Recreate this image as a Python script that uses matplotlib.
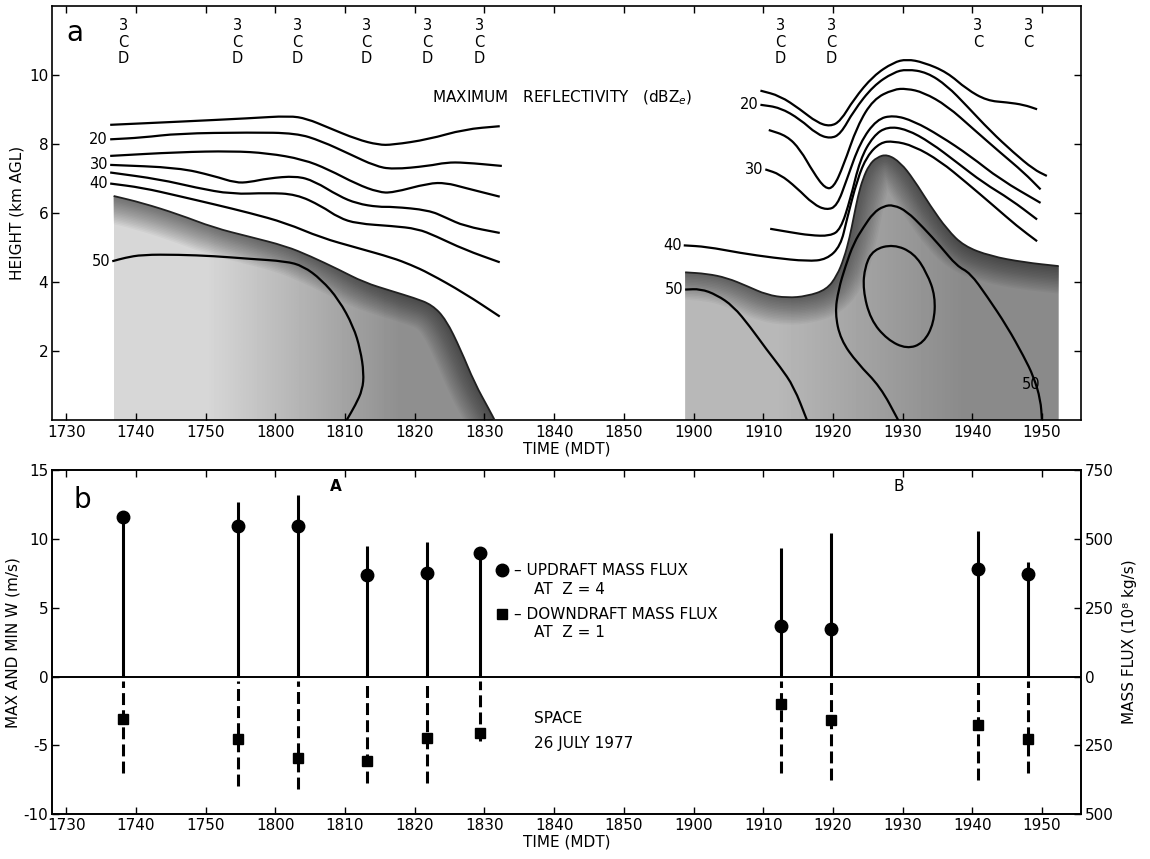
import numpy as np
import matplotlib.pyplot as plt
from matplotlib.path import Path
from matplotlib.patches import PathPatch

plt.rcParams['font.family'] = 'DejaVu Sans'
plt.rcParams['axes.unicode_minus'] = False

# ось времени: подписи HHMM (MDT), позиции в минутах после 17:30
tick_labels = ['1730', '1740', '1750', '1800', '1810', '1820', '1830', '1840',
               '1850', '1900', '1910', '1920', '1930', '1940', '1950']
tick_min = [int(s[:2]) * 60 + int(s[2:]) - (17 * 60 + 30) for s in tick_labels]

# моменты наблюдений (мин после 17:30) и коды радаров
obs_min = [8.2, 24.6, 33.2, 43.1, 51.8, 59.3, 102.5, 109.8, 130.8, 138.0]
radar_codes = ['3CD', '3CD', '3CD', '3CD', '3CD', '3CD', '3CD', '3CD', '3C', '3C']

# панель b: max/min W (м/с) и потоки массы (10^8 кг/с)
w_max = [11.6, 12.7, 13.2, 9.5, 9.75, 8.9, 9.3, 10.4, 10.6, 8.3]
w_min = [-7.0, -7.95, -8.15, -7.7, -7.75, -4.7, -7.0, -7.5, -7.5, -7.0]
up_flux = [579, 547, 547, 369, 376, 447, 185, 171, 390, 373]
down_flux = [155, 228, 297, 307, 222, 206, 100, 158, 176, 228]
w_ticks = [-10, -5, 0, 5, 10, 15]
flux_ticks = [-500, -250, 0, 250, 500, 750]
flux_tick_labels = ['500', '250', '0', '250', '500', '750']

# панель a: изолинии отражаемости (мин после 17:30, км), ячейка A
A15 = [(6.3, 8.56), (16.1, 8.65), (26.3, 8.75), (32.0, 8.82), (34.5, 8.74), (37.6, 8.48), (41.7, 8.14),
       (44.8, 7.98), (46.8, 7.98), (52.0, 8.14), (57.1, 8.43), (62.2, 8.52)]
A20 = [(6.3, 8.14), (10.9, 8.19), (16.1, 8.31), (26.3, 8.34), (33.0, 8.32), (36.6, 8.09), (40.7, 7.71),
       (44.3, 7.37), (46.8, 7.27), (52.0, 7.37), (54.5, 7.47), (57.1, 7.47), (62.5, 7.37)]
A25 = [(6.3, 7.66), (16.1, 7.77), (23.8, 7.80), (28.9, 7.74), (34.0, 7.56), (37.6, 7.27), (41.7, 6.84),
       (44.8, 6.61), (46.8, 6.59), (52.0, 6.87), (54.5, 6.88), (57.1, 6.74), (62.2, 6.48)]
A30 = [(6.3, 7.40), (16.1, 7.32), (21.2, 7.08), (24.3, 6.88), (26.3, 6.90), (28.9, 7.01), (33.0, 7.08),
       (35.6, 6.93), (39.1, 6.50), (41.7, 6.28), (44.8, 6.18), (46.8, 6.19), (52.0, 6.09), (54.5, 5.87),
       (57.1, 5.63), (62.2, 5.43)]
A35 = [(6.3, 7.18), (13.5, 6.98), (18.6, 6.74), (23.8, 6.55), (28.9, 6.59), (33.0, 6.55), (36.6, 6.21),
       (39.1, 5.87), (41.7, 5.70), (46.8, 5.63), (50.4, 5.55), (53.0, 5.34), (57.1, 4.95), (62.2, 4.58)]
A40 = [(6.3, 6.86), (10.9, 6.74), (16.1, 6.50), (21.2, 6.26), (26.3, 6.01), (31.5, 5.72), (36.6, 5.29),
       (41.7, 5.00), (46.8, 4.71), (49.4, 4.51), (52.0, 4.27), (57.1, 3.69), (62.2, 3.01)]
A45 = [(6.8, 6.50), (10.9, 6.30), (16.1, 5.97), (21.2, 5.58), (26.3, 5.32), (31.5, 5.05), (35.0, 4.76),
       (39.1, 4.37), (42.7, 4.00), (46.8, 3.74), (49.9, 3.55), (52.5, 3.35), (54.5, 2.92), (56.6, 2.05),
       (58.6, 1.08), (60.7, 0.31), (61.5, 0.0)]
A50 = [(6.6, 4.61), (8.4, 4.71), (10.9, 4.80), (16.1, 4.80), (21.2, 4.76), (26.3, 4.68), (31.5, 4.61),
       (34.0, 4.47), (36.6, 4.08), (39.1, 3.50), (41.2, 2.72), (42.2, 2.05), (42.7, 1.37), (42.5, 0.89),
       (41.5, 0.45), (40.2, 0.0)]

# ячейка B
B15 = [(99.6, 9.55), (102.4, 9.40), (105.3, 9.01), (107.7, 8.63), (109.6, 8.51), (111.1, 8.67), (113.0, 9.30),
       (115.8, 9.98), (118.7, 10.37), (120.6, 10.46), (123.0, 10.37), (126.4, 10.08), (129.2, 9.59),
       (132.1, 9.26), (135.0, 9.21), (137.4, 9.14), (139.3, 9.01)]
B20 = [(99.6, 9.14), (102.4, 9.06), (105.3, 8.72), (107.7, 8.29), (109.6, 8.16), (111.1, 8.29), (113.0, 8.97),
       (115.8, 9.69), (118.7, 10.08), (120.6, 10.17), (123.5, 10.08), (126.4, 9.69), (129.2, 9.11),
       (132.6, 8.38), (135.9, 7.76), (138.8, 7.27), (140.7, 7.08)]
B25 = [(100.8, 8.41), (103.4, 8.24), (105.3, 7.85), (107.2, 7.18), (108.9, 6.71), (110.1, 6.74), (111.5, 7.37),
       (113.5, 8.53), (115.8, 9.30), (118.7, 9.59), (120.6, 9.61), (123.0, 9.50), (126.4, 9.11), (130.2, 8.43),
       (134.0, 7.76), (137.4, 7.18), (139.8, 6.69)]
B30 = [(100.3, 7.27), (102.4, 7.13), (104.8, 6.74), (107.2, 6.26), (109.1, 6.09), (110.6, 6.21), (112.0, 6.98),
       (113.9, 8.05), (116.3, 8.72), (118.7, 8.84), (121.6, 8.67), (125.4, 8.24), (129.7, 7.66), (134.0, 6.98),
       (139.8, 6.30)]
B35 = [(101.0, 5.55), (103.9, 5.45), (106.7, 5.36), (109.6, 5.34), (111.1, 5.53), (112.5, 6.40), (113.9, 7.56),
       (115.8, 8.24), (117.8, 8.51), (120.6, 8.43), (124.0, 8.05), (127.8, 7.47), (131.6, 6.88), (135.5, 6.40),
       (139.3, 5.82)]
B40 = [(88.6, 5.07), (91.9, 5.03), (96.7, 4.85), (101.5, 4.71), (106.3, 4.61), (109.1, 4.66), (111.1, 5.05),
       (112.0, 5.82), (113.5, 6.98), (114.9, 7.66), (116.8, 8.05), (118.7, 8.09), (121.6, 7.95), (125.4, 7.51),
       (129.2, 6.88), (133.1, 6.21), (136.4, 5.63), (139.3, 5.19)]
B45 = [(88.8, 4.29), (91.9, 4.25), (94.8, 4.13), (97.7, 3.89), (100.5, 3.64), (103.4, 3.55), (106.3, 3.60),
       (109.1, 3.79), (110.6, 4.20), (111.6, 4.70), (112.4, 5.30), (113.0, 5.90), (113.6, 6.50), (114.3, 7.00),
       (115.2, 7.40), (116.3, 7.62), (117.8, 7.71), (119.7, 7.47), (121.6, 6.98), (124.0, 6.21), (126.4, 5.53),
       (128.8, 5.05), (132.6, 4.76), (137.4, 4.58), (142.4, 4.47)]
B50a = [(88.8, 3.79), (91.0, 3.81), (93.3, 3.64), (95.7, 3.31), (98.1, 2.72), (100.5, 2.05), (102.4, 1.56),
        (104.4, 0.98), (106.3, 0.0)]
B50b = [(119.4, 0.0), (116.8, 0.98), (113.5, 1.66), (111.1, 2.34), (110.3, 3.11), (110.8, 3.79), (111.8, 4.47),
        (113.0, 5.14), (114.4, 5.60), (115.8, 6.01), (117.3, 6.21), (118.7, 6.24), (120.6, 6.06), (123.0, 5.58),
        (125.4, 5.05), (127.8, 4.47), (129.7, 4.27), (132.1, 3.60), (135.0, 2.72), (137.4, 1.85), (138.8, 1.27),
        (139.8, 0.60), (140.0, 0.0)]
B55 = [(115.8, 4.95), (118.7, 5.10), (121.6, 4.85), (123.5, 4.27), (124.7, 3.60), (124.5, 2.82), (123.0, 2.24),
       (120.6, 2.07), (117.8, 2.34), (115.4, 2.92), (114.3, 3.79), (114.6, 4.47), (115.8, 4.95)]

contour_lines = [A15, A20, A25, A30, A35, A40, A50, B15, B20, B25, B30, B35, B40, B50a, B50b, B55]
contour_labels = [('20', A20), ('30', A30), ('40', A40), ('50', A50),
                  ('20', B20), ('30', B30), ('40', B40), ('50', B50a)]


def smooth_path(pts, base=False):
    # гладкая кривая: точки служат контрольными точками квадратичных Безье
    p = np.array(pts, dtype=float)
    closed = np.allclose(p[0], p[-1])
    verts, codes = [], []
    if closed:
        q = p[:-1]
        n = len(q)
        mid = (q + np.roll(q, -1, axis=0)) / 2
        verts.append(mid[-1]); codes.append(Path.MOVETO)
        for i in range(n):
            verts += [q[i], mid[i]]; codes += [Path.CURVE3, Path.CURVE3]
    else:
        mid = (p[:-1] + p[1:]) / 2
        verts += [p[0], mid[0]]; codes += [Path.MOVETO, Path.LINETO]
        for i in range(1, len(p) - 1):
            verts += [p[i], mid[i]]; codes += [Path.CURVE3, Path.CURVE3]
        verts.append(p[-1]); codes.append(Path.LINETO)
        if base:
            verts += [(p[-1, 0], 0), (p[0, 0], 0), p[0]]
            codes += [Path.LINETO, Path.LINETO, Path.CLOSEPOLY]
    return Path(verts, codes)


def curve(ax, pts, **kw):
    ax.add_patch(PathPatch(smooth_path(pts), facecolor='none', **kw))


def shade(ax, edge, c_left, c_right):
    # заливка области > 45 dBZ с плавным затемнением у края
    e = np.array(edge)
    poly = PathPatch(smooth_path(edge, base=True), facecolor='none', edgecolor='none')
    ax.add_patch(poly)
    im = ax.imshow([[c_left, c_right]], cmap='gray', vmin=0, vmax=1, aspect='auto',
                   extent=(e[0, 0], e[-1, 0], 0, 12), interpolation='bilinear', zorder=1)
    im.set_clip_path(poly)
    for i in range(18):
        pp = PathPatch(smooth_path(edge), facecolor='none', edgecolor='k', lw=2 + 2.2 * i,
                       alpha=0.03, joinstyle='round', capstyle='round', zorder=2)
        ax.add_patch(pp)
        pp.set_clip_path(poly)
    curve(ax, edge, edgecolor='#202020', lw=1.3, zorder=3)


fig = plt.figure(figsize=(11.5, 8.59), dpi=100)

# ---------- панель a ----------
ax = fig.add_axes([0.0455, 0.5105, 0.8945, 0.4825])
shade(ax, A45, 0.84, 0.56)
shade(ax, B45, 0.72, 0.54)
for line in contour_lines:
    curve(ax, line, edgecolor='k', lw=1.6, zorder=4)
for txt, line in contour_labels:
    ax.text(line[0][0] - 0.3, line[0][1], txt, ha='right', va='center', fontsize=10.5, zorder=5)
ax.text(138.4, 1.03, '50', ha='center', va='center', fontsize=10.5, zorder=5)

for t, code in zip(obs_min, radar_codes):
    ax.text(t, 11.66, '\n'.join(code), ha='center', va='top', fontsize=10.5, linespacing=1.15)

ax.text(0.022, 0.935, 'a', transform=ax.transAxes, fontsize=20, ha='center', va='center')
ax.text(0.4955, 0.778, 'MAXIMUM   REFLECTIVITY   (dBZ$_e$)', transform=ax.transAxes,
        fontsize=11, ha='center', va='center')

ax.set_xlim(-2, 145.6)
ax.set_ylim(0, 12)
ax.set_xticks(tick_min)
ax.set_xticklabels(tick_labels)
ax.set_yticks([2, 4, 6, 8, 10])
ax.tick_params(direction='in', length=5, width=1, labelsize=11, pad=3,
               top=True, right=True)
ax.set_xlabel('TIME (MDT)', fontsize=11, labelpad=1)
ax.set_ylabel('HEIGHT (km AGL)', fontsize=11, labelpad=3)
for s in ax.spines.values():
    s.set_linewidth(1.2)

# ---------- панель b ----------
bx = fig.add_axes([0.0455, 0.052, 0.8945, 0.4009])
bx.axhline(0, color='k', lw=1.4)
bx.vlines(obs_min, 0, w_max, colors='k', lw=2.2)
bx.vlines(obs_min, w_min, -0.3, colors='k', lw=2.2, linestyles=[(0, (3.9, 1.7))])

fx = bx.twinx()
fx.plot(obs_min, up_flux, 'o', color='k', ms=9)
fx.plot(obs_min, [-v for v in down_flux], 's', color='k', ms=6.5)
fx.set_ylim(-500, 750)
fx.set_yticks(flux_ticks)
fx.set_yticklabels(flux_tick_labels)
fx.tick_params(direction='in', length=5, width=1, labelsize=11, pad=3)
fx.set_ylabel('MASS FLUX (10⁸ kg/s)', fontsize=11, labelpad=6)

bx.set_xlim(-2, 145.6)
bx.set_ylim(-10, 15)
bx.set_xticks(tick_min)
bx.set_xticklabels(tick_labels)
bx.set_yticks(w_ticks)
bx.tick_params(direction='in', length=5, width=1, labelsize=11, pad=3, top=True)
bx.set_xlabel('TIME (MDT)', fontsize=11, labelpad=1)
bx.set_ylabel('MAX AND MIN W (m/s)', fontsize=11, labelpad=2)
for s in list(bx.spines.values()) + list(fx.spines.values()):
    s.set_linewidth(1.2)

# легенда и подписи
bx.plot([0.437], [0.709], 'o', color='k', ms=9, transform=bx.transAxes)
bx.plot([0.437], [0.581], 's', color='k', ms=6.5, transform=bx.transAxes)
bx.text(0.449, 0.709, '– UPDRAFT MASS FLUX', transform=bx.transAxes, fontsize=11, va='center')
bx.text(0.468, 0.654, 'AT  Z = 4', transform=bx.transAxes, fontsize=11, va='center')
bx.text(0.449, 0.581, '– DOWNDRAFT MASS FLUX', transform=bx.transAxes, fontsize=11, va='center')
bx.text(0.468, 0.527, 'AT  Z = 1', transform=bx.transAxes, fontsize=11, va='center')
bx.text(0.468, 0.277, 'SPACE', transform=bx.transAxes, fontsize=11, va='center')
bx.text(0.468, 0.207, '26 JULY 1977', transform=bx.transAxes, fontsize=11, va='center')
bx.text(0.276, 0.951, 'A', transform=bx.transAxes, fontsize=11, ha='center', va='center', fontweight='bold')
bx.text(0.823, 0.951, 'B', transform=bx.transAxes, fontsize=11, ha='center', va='center')
bx.text(0.029, 0.913, 'b', transform=bx.transAxes, fontsize=20, ha='center', va='center')

fig.savefig('out.png', dpi=100)
